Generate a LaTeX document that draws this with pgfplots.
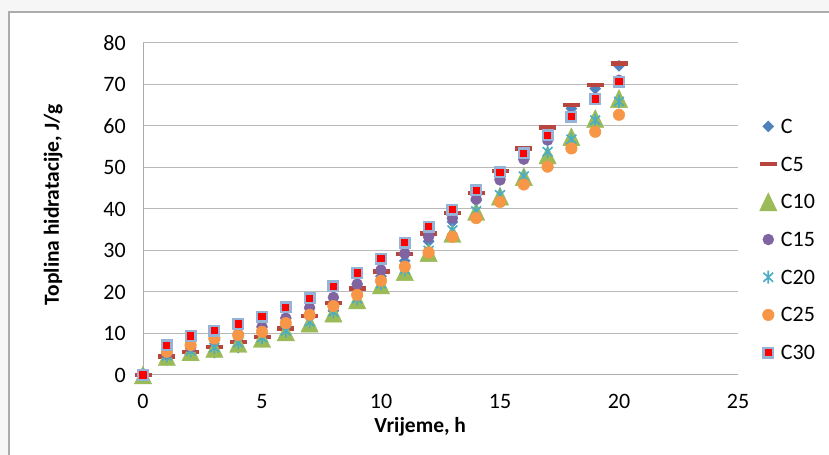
\documentclass[border=0pt]{standalone}
\usepackage{fontspec}
\setmainfont{Carlito}
\usepackage{pgfplots}
\pgfplotsset{compat=1.18}
\usepackage{pgfplotstable}

\definecolor{cC}{HTML}{4F81BD}
\definecolor{cCfive}{HTML}{B8463F}
\definecolor{cCten}{HTML}{9BBB59}
\definecolor{cCfifteen}{HTML}{8064A2}
\definecolor{cCtwenty}{HTML}{4BACC6}
\definecolor{cCtwentyfive}{HTML}{F79646}
\definecolor{cCthirtyedge}{HTML}{95B3D7}

% excel-like star: vertical bar plus an x
\pgfdeclareplotmark{xstar}{%
  \pgfpathmoveto{\pgfqpoint{0pt}{\pgfplotmarksize}}%
  \pgfpathlineto{\pgfqpoint{0pt}{-\pgfplotmarksize}}%
  \pgfpathmoveto{\pgfqpoint{-0.75\pgfplotmarksize}{-0.7\pgfplotmarksize}}%
  \pgfpathlineto{\pgfqpoint{0.75\pgfplotmarksize}{0.7\pgfplotmarksize}}%
  \pgfpathmoveto{\pgfqpoint{-0.75\pgfplotmarksize}{0.7\pgfplotmarksize}}%
  \pgfpathlineto{\pgfqpoint{0.75\pgfplotmarksize}{-0.7\pgfplotmarksize}}%
  \pgfusepathqstroke}

% heat of hydration, J/g
\pgfplotstableread{
x  C     C5    C10   C15   C20   C25   C30
0  0     0     0     0     0     0     0
1  3.6   4.4   4.4   5.0   4.6   5.6   7.2
2  4.8   5.6   5.6   6.6   5.8   7.2   9.4
3  5.4   6.8   6.4   8.6   6.6   8.8   10.7
4  6.6   8.0   7.6   9.8   7.8   9.6   12.3
5  8.0   9.2   8.8   11.6  9.0   10.4  14.0
6  9.6   11.2  10.4  13.7  10.6  12.5  16.3
7  12.0  14.2  12.5  16.2  12.8  14.5  18.5
8  15.5  17.3  14.9  18.7  15.2  16.6  21.4
9  19.5  20.9  18.1  21.9  18.4  19.3  24.6
10 23.8  24.9  21.7  25.3  22.0  22.7  28.0
11 27.5  29.2  24.9  29.3  25.4  26.1  31.9
12 32.2  34.1  29.5  33.3  30.0  29.5  35.7
13 36.9  39.0  34.1  37.8  34.9  33.3  39.8
14 42.0  43.9  39.4  42.4  39.5  37.8  44.5
15 47.5  49.2  43.1  47.0  43.4  41.7  48.8
16 53.4  54.6  47.8  52.0  47.9  45.9  53.4
17 58.6  59.6  53.0  56.6  53.8  50.2  57.8
18 64.2  65.1  57.4  62.4  56.8  54.6  62.2
19 69.0  69.9  61.8  66.8  61.4  58.6  66.5
20 74.5  75.1  66.6  71.0  65.9  62.7  70.7
}\hydration

\begin{document}
\begin{tikzpicture}[x=1bp,y=1bp]
\path[use as bounding box] (0,0) rectangle (829,455);
\fill[gray!7] (0,0) rectangle (829,455);
\fill[white] (9,0) rectangle (829,443);
\draw[gray!65, line width=1.3bp] (9,0) -- (9,443) -- (829,443);
\begin{axis}[
  at={(143bp,80bp)}, anchor=south west,
  width=595bp, height=332bp, scale only axis,
  xmin=0, xmax=25, ymin=0, ymax=80,
  xtick={0,5,...,25}, ytick={0,10,...,80},
  clip=false,
  axis lines*=left,
  axis line style={gray!65, line width=1bp},
  ymajorgrids,
  major grid style={gray!55, line width=1bp},
  major tick length=0pt,
  /pgf/number format/assume math mode=true,
  tick label style={font=\fontsize{22bp}{26bp}\selectfont},
  xticklabel style={yshift=-16bp},
  yticklabel style={xshift=-13.7bp},
  xlabel={\bfseries Vrijeme, h},
  ylabel={\bfseries Toplina hidratacije, J/g},
  label style={font=\fontsize{21.5bp}{25bp}\selectfont},
  xlabel style={at={(axis description cs:0.466,-0.1717)}, anchor=base},
  ylabel style={at={(axis description cs:-0.151,0.512)}, anchor=center, rotate=0},
  legend cell align=left,
  legend style={draw=none, fill=none, at={(axis description cs:1.036,0.408)},
    anchor=west, inner sep=0pt, row sep=7.7bp, column sep=4bp,
    font=\fontsize{22bp}{26bp}\selectfont,
    nodes={inner sep=0pt, text height=22bp, text depth=8bp}},
]
\addplot[only marks, mark=square*, mark size=3.9bp,
  mark options={rotate=45, fill=cC, draw=cC}] table[x=x, y=C] {\hydration};
\addlegendentry{C}
\addplot[only marks, mark=-, mark size=8.5bp,
  mark options={draw=cCfive, line width=4.5bp}] table[x=x, y=C5] {\hydration};
\addlegendentry{C5}
\addplot[only marks, mark=triangle*, mark size=10bp,
  mark options={yscale=1.2, yshift=-2.5bp, fill=cCten, draw=cCten}] table[x=x, y=C10] {\hydration};
\addlegendentry{C10}
\addplot[only marks, mark=*, mark size=5.5bp,
  mark options={fill=cCfifteen, draw=cCfifteen}] table[x=x, y=C15] {\hydration};
\addlegendentry{C15}
\addplot[only marks, mark=xstar, mark size=6.5bp,
  mark options={draw=cCtwenty, line width=1.6bp}] table[x=x, y=C20] {\hydration};
\addlegendentry{C20}
\addplot[only marks, mark=*, mark size=5.8bp,
  mark options={fill=cCtwentyfive, draw=cCtwentyfive}] table[x=x, y=C25] {\hydration};
\addlegendentry{C25}
\addplot[only marks, mark=square*, mark size=4.8bp,
  mark options={fill=red, draw=cCthirtyedge, line width=2.4bp}] table[x=x, y=C30] {\hydration};
\addlegendentry{C30}
\end{axis}
\end{tikzpicture}
\end{document}
